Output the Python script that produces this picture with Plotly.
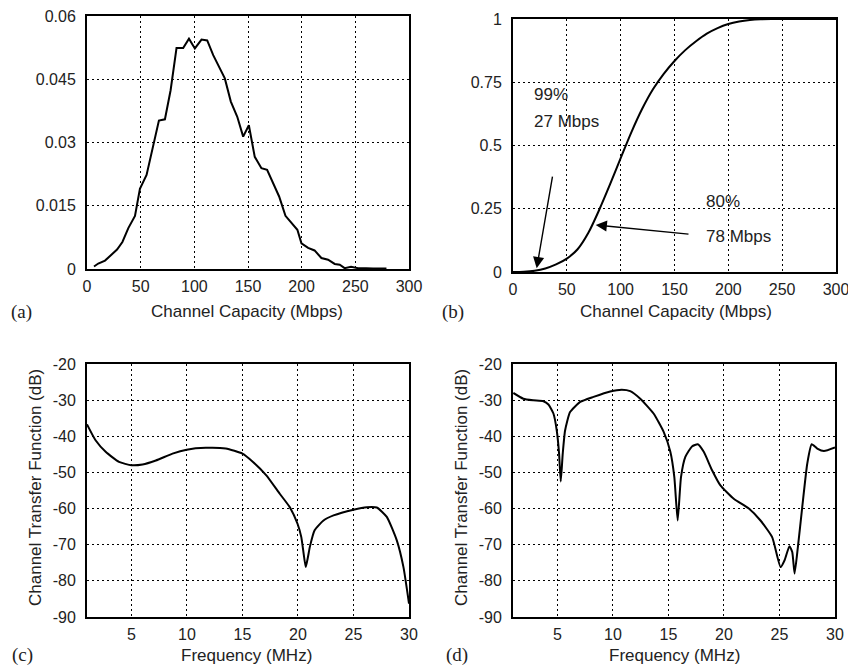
import plotly.graph_objects as go

# ---------------- data ----------------
# (a) PDF of channel capacity
cap_pdf_x = [6.5, 10.5, 16.8, 23, 28, 33, 38.5, 44.7, 49.3, 55.5, 61.7, 67, 72.6, 77.9,
             83.4, 89.6, 95, 100.5, 106.7, 112, 117.6, 122.2, 128.4, 134, 140, 145.5,
             150.8, 156.3, 162.5, 167.8, 173.4, 179, 184.9, 190.5, 196, 199.8, 206, 212,
             218.4, 224.6, 230.8, 235.5, 240, 246, 252.5, 260, 266.5, 279]
cap_pdf_y = [0.0006, 0.0013, 0.002, 0.0034, 0.0046, 0.0064, 0.0097, 0.0126, 0.019, 0.0223,
             0.0294, 0.0352, 0.0355, 0.0424, 0.0524, 0.0524, 0.0546, 0.0523, 0.0544, 0.0542,
             0.0507, 0.0483, 0.0452, 0.0397, 0.0361, 0.0314, 0.0341, 0.0266, 0.0239, 0.0235,
             0.0203, 0.0172, 0.0126, 0.0109, 0.0093, 0.0061, 0.005, 0.0044, 0.0026, 0.0022,
             0.0012, 0.001, 0.0002, 0.0005, 0.0002, 0.0002, 0.0001, 0.0001]

# (b) CDF of channel capacity
cap_cdf_x = [0, 10, 20, 30, 40, 50, 60, 70, 80, 90, 100, 110, 120, 130, 140, 150, 160, 170,
             180, 190, 200, 210, 220, 230, 240, 300]
cap_cdf_y = [0, 0.001, 0.005, 0.014, 0.03, 0.053, 0.09, 0.155, 0.245, 0.345, 0.45, 0.553,
             0.645, 0.722, 0.783, 0.834, 0.877, 0.912, 0.942, 0.964, 0.98, 0.99, 0.996,
             0.999, 1.0, 1.0]

# (c) channel transfer function 1
freq_c = [1, 1.77, 2.68, 3.88, 5, 6, 7.2, 8.7, 9.98, 11.7, 13.5, 15, 15.95, 17.15, 18.36,
          19.26, 19.96, 20.3, 20.47, 20.7, 20.9, 21.07, 21.5, 22.3, 23.2, 25, 26.2, 27.1,
          28, 28.9, 29.5, 30]
h_c = [-36.7, -41.1, -44.3, -47.1, -48.0, -47.8, -46.7, -44.8, -43.7, -43.2, -43.4, -44.8,
       -47.1, -50.8, -55.9, -59.6, -64.2, -67.9, -71.5, -76.2, -73.4, -70.6, -66.0, -63.3,
       -61.9, -60.3, -59.6, -59.7, -62.3, -68.8, -76.2, -86.3]

# (d) channel transfer function 2
freq_d = [1.03, 1.93, 2.83, 3.74, 4.19, 4.64, 4.94, 5.15, 5.3, 5.48, 5.69, 6.14, 7.05, 8.25,
          9.75, 10.8, 11.56, 12.46, 13.66, 14.57, 15.17, 15.53, 15.83, 16.13, 16.52, 17.12,
          17.64, 18.18, 18.93, 19.68, 20.88, 22.24, 23.29, 24.34, 25.1, 25.46, 25.9, 26.15,
          26.36, 26.66, 27.05, 27.5, 27.9, 28.4, 29.0, 30]
h_d = [-28.0, -29.6, -30.05, -30.3, -31.2, -33.7, -38.4, -44.8, -52.5, -44.8, -38.4, -33.3,
       -30.5, -29.1, -27.6, -27.1, -27.5, -29.6, -33.7, -38.8, -44.3, -51.3, -63.3, -51.3,
       -45.7, -42.8, -42.2, -44.3, -49.4, -53.6, -57.3, -60.0, -63.3, -67.9, -76.2, -74.3,
       -70.4, -72.0, -78.0, -70.6, -59.6, -47.6, -42.2, -43.4, -44.1, -43.1]

# tick labels
pdf_ticks = [0, 0.015, 0.03, 0.045, 0.06]
pdf_ticktext = ["0", "0.015", "0.03", "0.045", "0.06"]
cdf_ticks = [0, 0.25, 0.5, 0.75, 1]
cdf_ticktext = ["0", "0.25", "0.5", "0.75", "1"]
cap_ticks = [0, 50, 100, 150, 200, 250, 300]
db_ticks = [-90, -80, -70, -60, -50, -40, -30, -20]
db_ticktext = ["-90", "-80", "-70", "-60", "-50", "-40", "-30", "-20"]
freq_ticks = [5, 10, 15, 20, 25, 30]

# annotation text for (b)
ann_99 = ["99%", "27 Mbps"]
ann_80 = ["80%", "78 Mbps"]

# ---------------- layout ----------------
W, H = 848, 671
SANS = "Liberation Sans, Arial, sans-serif"
SERIF = "Liberation Serif, Times New Roman, serif"


def dom_x(a, b):
    return [a / W, b / W]


def dom_y(top, bottom):
    return [1 - bottom / H, 1 - top / H]


panels = {
    "a": dict(x=(87, 409), y=(16, 269)),
    "b": dict(x=(513, 836), y=(19, 272)),
    "c": dict(x=(87, 409), y=(364, 617)),
    "d": dict(x=(513, 835), y=(364, 617)),
}

fig = go.Figure()
fig.add_trace(go.Scatter(x=cap_pdf_x, y=cap_pdf_y, mode="lines",
                         line=dict(color="black", width=2), xaxis="x", yaxis="y"))
fig.add_trace(go.Scatter(x=cap_cdf_x, y=cap_cdf_y, mode="lines",
                         line=dict(color="black", width=2, shape="spline", smoothing=0.8),
                         xaxis="x2", yaxis="y2"))
fig.add_trace(go.Scatter(x=freq_c, y=h_c, mode="lines",
                         line=dict(color="black", width=2, shape="spline", smoothing=0.5),
                         xaxis="x3", yaxis="y3"))
fig.add_trace(go.Scatter(x=freq_d, y=h_d, mode="lines",
                         line=dict(color="black", width=2, shape="spline", smoothing=0.5),
                         xaxis="x4", yaxis="y4"))

common = dict(
    showline=True, linecolor="black", linewidth=2, mirror=True,
    showgrid=True, gridcolor="black", gridwidth=1, griddash="2px,3px",
    zeroline=False, ticks="outside", ticklen=0, automargin=False,
    ticklabeloverflow="allow",
    tickfont=dict(family=SANS, size=16, color="#222"),
)


def xax(key, rng, tv, anchor):
    p = panels[key]
    return dict(common, domain=dom_x(*p["x"]), range=rng, tickvals=tv, anchor=anchor,
                ticklabelstandoff=2)


def yax(key, rng, tv, tt, anchor):
    p = panels[key]
    return dict(common, domain=dom_y(*p["y"]), range=rng, tickvals=tv, ticktext=tt,
                anchor=anchor, ticklabelstandoff=6)


fig.update_layout(
    width=W, height=H,
    margin=dict(l=0, r=0, t=0, b=0, pad=0),
    paper_bgcolor="white", plot_bgcolor="white",
    showlegend=False,
    xaxis=xax("a", [0, 300], cap_ticks, "y"),
    yaxis=yax("a", [0, 0.06], pdf_ticks, pdf_ticktext, "x"),
    xaxis2=xax("b", [0, 300], cap_ticks, "y2"),
    yaxis2=yax("b", [0, 1], cdf_ticks, cdf_ticktext, "x2"),
    xaxis3=xax("c", [1, 30], freq_ticks, "y3"),
    yaxis3=yax("c", [-90, -20], db_ticks, db_ticktext, "x3"),
    xaxis4=xax("d", [1, 30], freq_ticks, "y4"),
    yaxis4=yax("d", [-90, -20], db_ticks, db_ticktext, "x4"),
)

anns = []
tfont = dict(family=SANS, size=17, color="#222")
lfont = dict(family=SERIF, size=19, color="#222")


def paper(px, py):
    return px / W, 1 - py / H


for lab, (lx, ly), (tx, ty), title in [
    ("(a)", (21, 312), (247, 312), "Channel Capacity (Mbps)"),
    ("(b)", (453, 312), (676, 312), "Channel Capacity (Mbps)"),
    ("(c)", (22, 655), (247, 655), "Frequency (MHz)"),
    ("(d)", (457, 655), (674, 655), "Frequency (MHz)"),
]:
    x, y = paper(lx, ly)
    anns.append(dict(text=lab, x=x, y=y, xref="paper", yref="paper", showarrow=False,
                     font=lfont, xanchor="center", yanchor="middle"))
    x, y = paper(tx, ty)
    anns.append(dict(text=title, x=x, y=y, xref="paper", yref="paper", showarrow=False,
                     font=tfont, xanchor="center", yanchor="middle"))

for (px, py) in [(35, 488), (461, 488)]:
    x, y = paper(px, py)
    anns.append(dict(text="Channel Transfer Function (dB)", x=x, y=y, xref="paper", yref="paper",
                     showarrow=False, font=tfont, textangle=-90, xanchor="center", yanchor="middle"))

# texts in (b)
for txt, xx, yy in [(ann_99[0], 17.6, 0.70), (ann_99[1], 17.6, 0.594),
                    (ann_80[0], 177.4, 0.278), (ann_80[1], 177.4, 0.14)]:
    anns.append(dict(text=txt, x=xx, y=yy, xref="x2", yref="y2", showarrow=False,
                     font=tfont, xanchor="left", yanchor="middle"))

# arrows in (b)
for (hx, hy, tx_, ty_) in [(22, 0.015, 36.9, 0.383), (76.8, 0.186, 164.4, 0.149)]:
    anns.append(dict(x=hx, y=hy, ax=tx_, ay=ty_, xref="x2", yref="y2", axref="x2", ayref="y2",
                     showarrow=True, arrowhead=2, arrowsize=1.6, arrowwidth=1.4,
                     arrowcolor="black", text="", standoff=0))

fig.update_layout(annotations=anns)
fig.write_html(
    "out.html",
    config={"displayModeBar": False},
    post_script="document.body.style.margin='0';document.body.style.padding='0';"
                "document.body.style.overflow='hidden';",
)
